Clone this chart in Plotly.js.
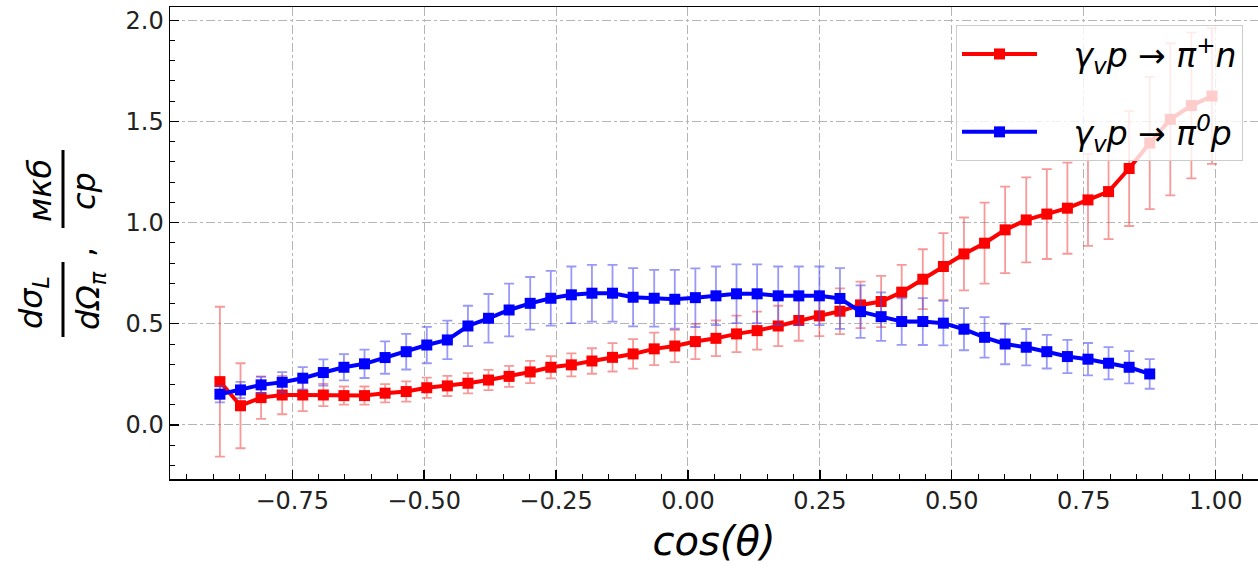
<!DOCTYPE html>
<html>
<head>
<meta charset="utf-8">
<script src="https://cdn.plot.ly/plotly-3.0.1.min.js"></script>
<style>
html,body{margin:0;padding:0;overflow:hidden;background:#fff;}
#chart{width:1258px;height:569px;}
</style>
</head>
<body>
<div id="chart"></div>
<script>
// cos(theta) bin centres
const cosTheta = [-0.887,-0.848,-0.809,-0.769,-0.730,-0.691,-0.652,-0.613,-0.574,-0.534,
  -0.495,-0.456,-0.417,-0.378,-0.339,-0.299,-0.260,-0.221,-0.182,-0.143,
  -0.104,-0.064,-0.025,0.014,0.053,0.092,0.131,0.171,0.210,0.249,
  0.288,0.327,0.366,0.405,0.445,0.484,0.523,0.562,0.601,0.641,
  0.680,0.719,0.758,0.797,0.836,0.875,0.914,0.954,0.993];

// gamma_v p -> pi+ n
const piPlusN = [0.214,0.095,0.135,0.148,0.148,0.148,0.145,0.145,0.157,0.165,
  0.184,0.193,0.206,0.222,0.240,0.262,0.285,0.297,0.316,0.334,
  0.351,0.376,0.390,0.412,0.428,0.450,0.466,0.489,0.516,0.539,
  0.562,0.593,0.610,0.656,0.720,0.783,0.845,0.898,0.964,1.013,
  1.042,1.071,1.112,1.153,1.267,1.393,1.510,1.578,1.625];
const piPlusNErr = [0.37,0.21,0.105,0.095,0.08,0.055,0.045,0.045,0.045,0.05,
  0.05,0.05,0.05,0.05,0.052,0.055,0.055,0.057,0.063,0.07,
  0.073,0.08,0.08,0.087,0.088,0.09,0.094,0.10,0.10,0.10,
  0.113,0.115,0.127,0.135,0.148,0.165,0.18,0.20,0.214,0.21,
  0.222,0.225,0.227,0.235,0.284,0.327,0.376,0.36,0.335];

// gamma_v p -> pi0 p
const piZeroP = [0.152,0.173,0.198,0.211,0.231,0.259,0.285,0.302,0.333,0.362,
  0.395,0.420,0.489,0.527,0.568,0.601,0.626,0.643,0.651,0.651,
  0.631,0.626,0.621,0.629,0.638,0.648,0.648,0.638,0.638,0.638,
  0.625,0.560,0.535,0.511,0.511,0.503,0.473,0.433,0.400,0.384,
  0.362,0.338,0.325,0.305,0.285,0.252];
const piZeroPErr = [0.04,0.04,0.04,0.05,0.055,0.065,0.065,0.07,0.08,0.088,
  0.09,0.095,0.10,0.12,0.13,0.13,0.135,0.14,0.14,0.14,
  0.144,0.14,0.145,0.145,0.145,0.145,0.145,0.145,0.145,0.145,
  0.15,0.13,0.12,0.115,0.116,0.11,0.104,0.10,0.10,0.09,
  0.083,0.082,0.08,0.08,0.08,0.073];

const seriesNames = ['\u00a0\u00a0\u00a0<i>γ<sub>v</sub>p → π<sup>+</sup>n</i>', '\u00a0\u00a0\u00a0<i>γ<sub>v</sub>p → π<sup>0</sup>p</i>'];
const xTickVals = [-0.75,-0.5,-0.25,0,0.25,0.5,0.75,1.0];
const yTickVals = [0,0.5,1.0,1.5,2.0];

const FONT = 'DejaVu Sans, sans-serif';

const traces = [
  {
    x: cosTheta, y: piPlusN, name: seriesNames[0], type: 'scatter', mode: 'lines+markers',
    legendgroup: 'a',
    line: {color: '#ff0000', width: 4},
    marker: {symbol: 'square', size: 11, color: '#ff0000'},
    error_y: {type: 'data', array: piPlusNErr, visible: true, color: 'rgba(240,70,70,0.55)', thickness: 1.8, width: 5}
  },
  {
    x: cosTheta.slice(0, piZeroP.length), y: piZeroP, name: seriesNames[1], type: 'scatter', mode: 'lines+markers',
    legendgroup: 'b',
    line: {color: '#0000ff', width: 4},
    marker: {symbol: 'square', size: 11, color: '#0000ff'},
    error_y: {type: 'data', array: piZeroPErr, visible: true, color: 'rgba(70,70,240,0.55)', thickness: 1.8, width: 5}
  }
];

const L = 170, T = 7, W = 1258, H = 569, B = 90;
const pw = W - L, ph = H - T - B;
function px(xp){ return (xp - L) / pw; }
function py(yp){ return (H - B - yp) / ph; }

const labelFont = {family: FONT, size: 32, color: '#000'};
const annotations = [
  {text: '<i>dσ<sub>L</sub></i>', x: px(33), y: py(303)},
  {text: '<i>dΩ<sub>π</sub></i>', x: px(90), y: py(301)},
  {text: '<i>мкб</i>', x: px(40), y: py(191)},
  {text: '<i>ср</i>', x: px(84), y: py(191)},
  {text: ',', x: px(82), y: py(252)}
].map(a => Object.assign({xref: 'paper', yref: 'paper', showarrow: false, textangle: -90,
  xanchor: 'center', yanchor: 'middle', font: labelFont}, a));

const shapes = [
  {type: 'line', xref: 'paper', yref: 'paper', x0: px(63), x1: px(63), y0: py(337), y1: py(262), line: {color: '#000', width: 3}},
  {type: 'line', xref: 'paper', yref: 'paper', x0: px(63), x1: px(63), y0: py(228), y1: py(150), line: {color: '#000', width: 3}}
];

const layout = {
  width: W, height: H,
  margin: {l: L, r: 0, t: T, b: B, pad: 0},
  paper_bgcolor: '#fff', plot_bgcolor: '#fff',
  font: {family: FONT, color: '#222'},
  showlegend: true,
  legend: {
    x: px(1243), y: py(25), xanchor: 'right', yanchor: 'top',
    bgcolor: 'rgba(255,255,255,0.8)', bordercolor: '#cccccc', borderwidth: 1,
    font: {family: FONT, size: 33, color: '#000'},
    tracegroupgap: 32, traceorder: 'grouped', itemwidth: 75,
    valign: 'middle'
  },
  xaxis: {
    range: [-0.9816, 1.0802],
    tickvals: xTickVals, tickformat: '.2f',
    ticks: 'inside', ticklen: 9, tickwidth: 1.3, tickcolor: '#000',
    minor: {dtick: 0.05, tick0: 0, ticks: 'inside', ticklen: 5, tickwidth: 1, tickcolor: '#000', showgrid: false},
    showline: true, linecolor: '#000', linewidth: 1.5, mirror: true,
    showgrid: true, gridcolor: '#b5b5b5', griddash: 'dashdot', gridwidth: 1,
    zeroline: false,
    tickfont: {family: FONT, size: 24, color: '#222'},
    title: {text: '<i>cos(θ)</i>', font: {family: FONT, size: 40, color: '#000'}, standoff: 12}
  },
  yaxis: {
    range: [-0.267, 2.065],
    tickvals: yTickVals, tickformat: '.1f',
    ticks: 'inside', ticklen: 9, tickwidth: 1.3, tickcolor: '#000',
    minor: {dtick: 0.1, tick0: 0, ticks: 'inside', ticklen: 5, tickwidth: 1, tickcolor: '#000', showgrid: false},
    showline: true, linecolor: '#000', linewidth: 1.5, mirror: false,
    showgrid: true, gridcolor: '#b5b5b5', griddash: 'dashdot', gridwidth: 1,
    zeroline: false,
    tickfont: {family: FONT, size: 24, color: '#222'}
  },
  annotations: annotations,
  shapes: shapes
};

Plotly.newPlot('chart', traces, layout, {displayModeBar: false, staticPlot: true});
</script>
</body>
</html>
